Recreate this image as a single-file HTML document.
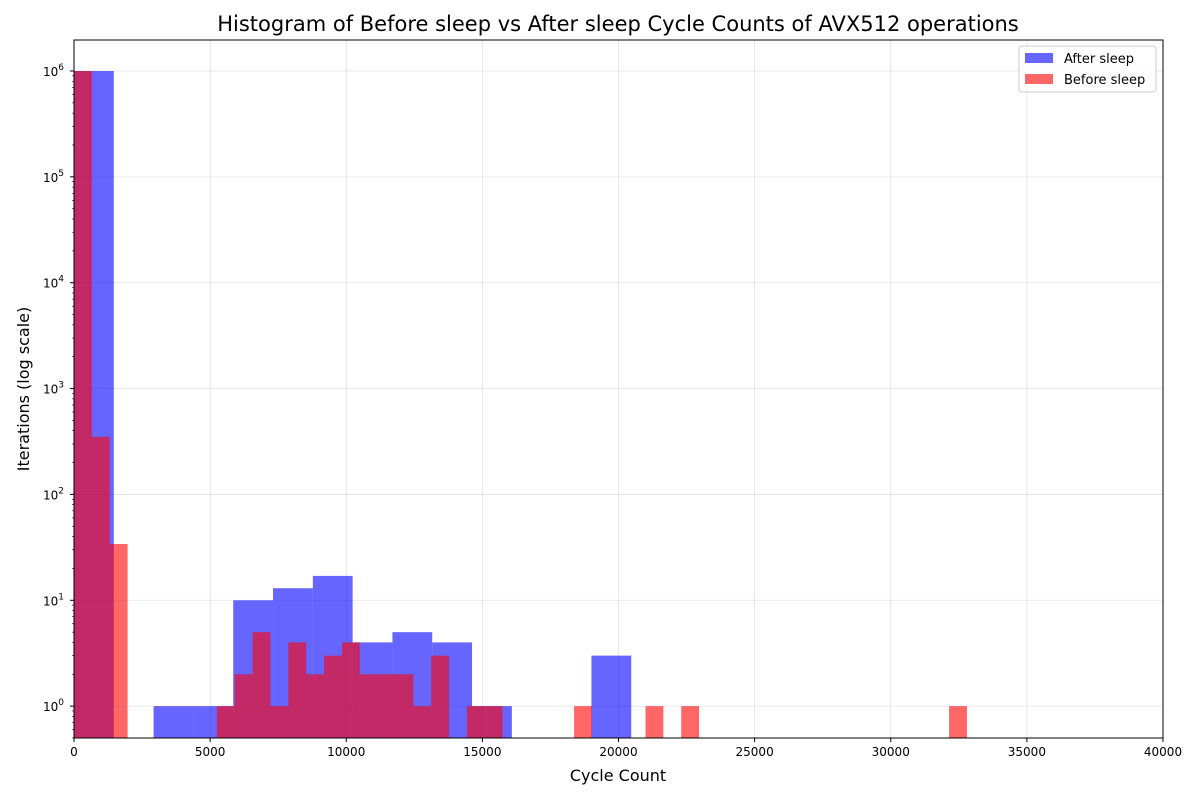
<!DOCTYPE html>
<html><head><meta charset="utf-8"><style>
body{margin:0;background:#fff;font-family:"Liberation Sans","DejaVu Sans",sans-serif}
svg text{font-family:"DejaVu Sans","Liberation Sans",sans-serif}
</style></head><body>
<svg id="c" width="1200" height="800" xmlns="http://www.w3.org/2000/svg"></svg>
<script>
const blueWidth = 1462;
const blueCounts = [1000000,0,1,1,10,13,17,4,5,4,1,0,0,3];
const redWidth = 656;
const redCounts = [1000000,350,34,0,0,0,0,0,1,2,5,1,4,2,3,4,2,2,2,1,3,0,1,1,0,0,0,0,1,0,0,0,1,0,1,0,0,0,0,0,0,0,0,0,0,0,0,0,0,1];
const xTicks = [0,5000,10000,15000,20000,25000,30000,35000,40000];
const yTicks = [0,1,2,3,4,5,6];

const L=74,R=1163,T=40,B=738;
const yMin=Math.log10(0.5), yMax=6.293;
const sx=v=>L+(v/40000)*(R-L);
const sy=v=>B-(Math.log10(v)-yMin)/(yMax-yMin)*(B-T);
const svg=document.getElementById('c');
const NS='http://www.w3.org/2000/svg';
function mk(t,a,p){const e=document.createElementNS(NS,t);for(const k in a)e.setAttribute(k,a[k]);(p||svg).appendChild(e);return e;}

xTicks.forEach(v=>{mk('line',{x1:sx(v),x2:sx(v),y1:T,y2:B,stroke:'#b0b0b0','stroke-opacity':0.35,'stroke-width':0.8});});
yTicks.forEach(p=>{mk('line',{x1:L,x2:R,y1:sy(10**p),y2:sy(10**p),stroke:'#b0b0b0','stroke-opacity':0.35,'stroke-width':0.8});});

function bars(counts,w,color,name){
  const g=mk('g',{});
  
  
  counts.forEach((c,i)=>{ if(c<=0)return;
    const r=mk('rect',{x:sx(i*w),y:sy(c),width:sx((i+1)*w)-sx(i*w),height:B-sy(c),fill:color,'fill-opacity':0.6},g);
    
    
  });
}
bars(blueCounts,blueWidth,'#0000ff','after-sleep-series');
bars(redCounts,redWidth,'#ff0000','before-sleep-series');

mk('rect',{x:L,y:T,width:R-L,height:B-T,fill:'none',stroke:'#000','stroke-width':1});

xTicks.forEach(v=>{const x=sx(v);mk('line',{x1:x,x2:x,y1:B,y2:B+4,stroke:'#000'});
  const t=mk('text',{x:x,y:B+18,'text-anchor':'middle','font-size':12});t.textContent=v;
  });
yTicks.forEach(p=>{const y=sy(10**p);mk('line',{x1:L-4,x2:L,y1:y,y2:y,stroke:'#000'});
  const t=mk('text',{x:L-10,y:y+5,'text-anchor':'end','font-size':12});
  t.innerHTML='10<tspan dy="-6" font-size="9">'+p+'</tspan>';
  });
for(let p=-1;p<=6;p++)for(let m=2;m<10;m++){const v=m*10**p;if(v<0.5||Math.log10(v)>yMax)continue;
  const y=sy(v);mk('line',{x1:L-2,x2:L,y1:y,y2:y,stroke:'#000','stroke-width':0.6});}

let t=mk('text',{x:618,y:31,'text-anchor':'middle','font-size':21});t.textContent='Histogram of Before sleep vs After sleep Cycle Counts of AVX512 operations';

t=mk('text',{x:618,y:781,'text-anchor':'middle','font-size':16});t.textContent='Cycle Count';

t=mk('text',{x:29,y:389,'text-anchor':'middle','font-size':16,transform:'rotate(-90 29 389)'});t.textContent='Iterations (log scale)';


const lg=mk('g',{});
mk('rect',{x:1019,y:46,width:137,height:46,rx:3,fill:'#fff','fill-opacity':0.8,stroke:'#ccc'},lg);
[['After sleep','#0000ff',58],['Before sleep','#ff0000',79]].forEach(([n,c,y])=>{
  const e=mk('g',{},lg);
  mk('rect',{x:1025,y:y-5,width:28,height:10,fill:c,'fill-opacity':0.6},e);
  const tx=mk('text',{x:1064,y:y+5,'font-size':13},e);tx.textContent=n;});
</script>
</body></html>
